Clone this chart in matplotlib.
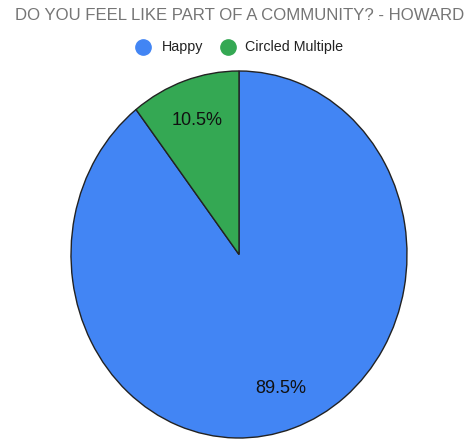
import matplotlib
matplotlib.use("Agg")
import matplotlib.pyplot as plt
from matplotlib.lines import Line2D

plt.rcParams['font.family'] = ['Liberation Sans', 'DejaVu Sans']

title = "DO YOU FEEL LIKE PART OF A COMMUNITY? - HOWARD"
categories = ["Happy", "Circled Multiple"]
values = [89.5, 10.5]
colors = ["#4285F4", "#34A853"]

W, H = 472, 440
fig = plt.figure(figsize=(W / 100, H / 100), dpi=100)

# pie axes (slightly stretched vertically as in the reference)
left, right, top, bottom = 71, 407, 71, 438
ax = fig.add_axes([left / W, (H - bottom) / H, (right - left) / W, (bottom - top) / H])
wedges, texts, autotexts = ax.pie(
    values, colors=colors, startangle=90, counterclock=False,
    autopct='%1.1f%%', pctdistance=0.77,
    wedgeprops=dict(edgecolor='#222222', linewidth=1.0),
    textprops=dict(fontsize=13, color='#111111'))
ax.set_aspect('auto')
ax.set_xlim(-1, 1)
ax.set_ylim(-1, 1)
ax.axis('off')

fig.text(240 / W, 1 - 15 / H, title, ha='center', va='center',
         fontsize=12.1, color='#757575')

# legend
leg_y = 1 - 47 / H
marker_x = [143, 228]
text_x = [162, 245]
for cat, col, mx, tx in zip(categories, colors, marker_x, text_x):
    fig.add_artist(Line2D([mx / W], [leg_y], marker='o', markersize=11,
                          markerfacecolor=col, markeredgecolor=col,
                          linestyle='None', transform=fig.transFigure))
    fig.text(tx / W, leg_y, cat, ha='left', va='center', fontsize=10.3,
             color='#222222')

fig.savefig("out.png", dpi=100)
